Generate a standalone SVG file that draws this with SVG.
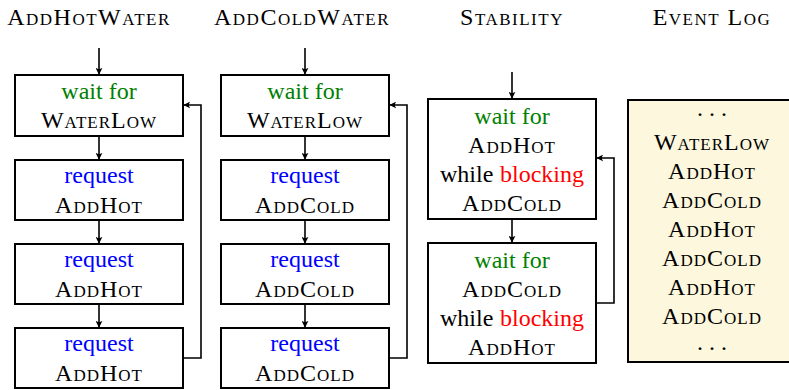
<svg xmlns="http://www.w3.org/2000/svg" width="789" height="390" viewBox="0 0 789 390">
  <style>
    .box { fill: #fff; stroke: #000; stroke-width: 2; }
    .log { fill: #fdf7dd; stroke: #000; stroke-width: 2; }
    .edge { fill: none; stroke: #000; stroke-width: 1.6; marker-end: url(#arr); }
  </style>
  <defs>
    <marker id="arr" viewBox="0 0 10 10" refX="9" refY="5" markerWidth="7" markerHeight="7" orient="auto" markerUnits="userSpaceOnUse">
      <path d="M0,0 Q4,5 0,10 L10,5 Z" fill="#000"/>
    </marker>
  </defs>

  <!-- column headers (small caps) -->
  <g id="headers">
    <text x="89" y="25" font-family="Liberation Serif" font-size="24" font-variant="small-caps" letter-spacing="1.5" text-anchor="middle" fill="#000">AddHotWater</text>
    <text x="302" y="25" font-family="Liberation Serif" font-size="24" font-variant="small-caps" letter-spacing="1.5" text-anchor="middle" fill="#000">AddColdWater</text>
    <text x="512" y="25" font-family="Liberation Serif" font-size="24" font-variant="small-caps" letter-spacing="1.5" text-anchor="middle" fill="#000">Stability</text>
    <text x="712" y="25" font-family="Liberation Serif" font-size="24" font-variant="small-caps" letter-spacing="1.5" text-anchor="middle" fill="#000">Event Log</text>
  </g>

  <!-- AddHotWater process -->
  <g id="hot-wait">
    <rect class="box" x="15" y="75" width="168" height="61"/>
    <text x="99" y="99" font-family="Liberation Serif" font-size="24" text-anchor="middle" fill="#008000">wait for</text>
    <text x="99" y="128" font-family="Liberation Serif" font-size="24" font-variant="small-caps" letter-spacing="1" text-anchor="middle" fill="#000">WaterLow</text>
  </g>
  <g id="hot-req1">
    <rect class="box" x="15" y="160" width="168" height="60"/>
    <text x="99" y="183" font-family="Liberation Serif" font-size="24" text-anchor="middle" fill="#0000ff">request</text>
    <text x="99" y="213" font-family="Liberation Serif" font-size="24" font-variant="small-caps" letter-spacing="1" text-anchor="middle" fill="#000">AddHot</text>
  </g>
  <g id="hot-req2">
    <rect class="box" x="15" y="244" width="168" height="60"/>
    <text x="99" y="267" font-family="Liberation Serif" font-size="24" text-anchor="middle" fill="#0000ff">request</text>
    <text x="99" y="297" font-family="Liberation Serif" font-size="24" font-variant="small-caps" letter-spacing="1" text-anchor="middle" fill="#000">AddHot</text>
  </g>
  <g id="hot-req3">
    <rect class="box" x="15" y="328" width="168" height="60"/>
    <text x="99" y="351" font-family="Liberation Serif" font-size="24" text-anchor="middle" fill="#0000ff">request</text>
    <text x="99" y="381" font-family="Liberation Serif" font-size="24" font-variant="small-caps" letter-spacing="1" text-anchor="middle" fill="#000">AddHot</text>
  </g>

  <!-- AddColdWater process -->
  <g id="cold-wait">
    <rect class="box" x="221" y="75" width="168" height="61"/>
    <text x="305" y="99" font-family="Liberation Serif" font-size="24" text-anchor="middle" fill="#008000">wait for</text>
    <text x="305" y="128" font-family="Liberation Serif" font-size="24" font-variant="small-caps" letter-spacing="1" text-anchor="middle" fill="#000">WaterLow</text>
  </g>
  <g id="cold-req1">
    <rect class="box" x="221" y="160" width="168" height="60"/>
    <text x="305" y="183" font-family="Liberation Serif" font-size="24" text-anchor="middle" fill="#0000ff">request</text>
    <text x="305" y="213" font-family="Liberation Serif" font-size="24" font-variant="small-caps" letter-spacing="1" text-anchor="middle" fill="#000">AddCold</text>
  </g>
  <g id="cold-req2">
    <rect class="box" x="221" y="244" width="168" height="60"/>
    <text x="305" y="267" font-family="Liberation Serif" font-size="24" text-anchor="middle" fill="#0000ff">request</text>
    <text x="305" y="297" font-family="Liberation Serif" font-size="24" font-variant="small-caps" letter-spacing="1" text-anchor="middle" fill="#000">AddCold</text>
  </g>
  <g id="cold-req3">
    <rect class="box" x="221" y="328" width="168" height="60"/>
    <text x="305" y="351" font-family="Liberation Serif" font-size="24" text-anchor="middle" fill="#0000ff">request</text>
    <text x="305" y="381" font-family="Liberation Serif" font-size="24" font-variant="small-caps" letter-spacing="1" text-anchor="middle" fill="#000">AddCold</text>
  </g>

  <!-- Stability process -->
  <g id="stab-hot">
    <rect class="box" x="428" y="99" width="168" height="120"/>
    <text x="512" y="124" font-family="Liberation Serif" font-size="24" text-anchor="middle" fill="#008000">wait for</text>
    <text x="512" y="153" font-family="Liberation Serif" font-size="24" font-variant="small-caps" letter-spacing="1" text-anchor="middle" fill="#000">AddHot</text>
    <text x="440" y="182" font-family="Liberation Serif" font-size="24" fill="#000">while</text>
    <text x="500" y="182" font-family="Liberation Serif" font-size="24" fill="#ff0000">blocking</text>
    <text x="512" y="211" font-family="Liberation Serif" font-size="24" font-variant="small-caps" letter-spacing="1" text-anchor="middle" fill="#000">AddCold</text>
  </g>
  <g id="stab-cold">
    <rect class="box" x="428" y="243" width="168" height="120"/>
    <text x="512" y="268" font-family="Liberation Serif" font-size="24" text-anchor="middle" fill="#008000">wait for</text>
    <text x="512" y="297" font-family="Liberation Serif" font-size="24" font-variant="small-caps" letter-spacing="1" text-anchor="middle" fill="#000">AddCold</text>
    <text x="440" y="326" font-family="Liberation Serif" font-size="24" fill="#000">while</text>
    <text x="500" y="326" font-family="Liberation Serif" font-size="24" fill="#ff0000">blocking</text>
    <text x="512" y="355" font-family="Liberation Serif" font-size="24" font-variant="small-caps" letter-spacing="1" text-anchor="middle" fill="#000">AddHot</text>
  </g>

  <!-- event log -->
  <g id="event-log">
    <rect class="log" x="628" y="100" width="170" height="262"/>
    <text x="712" y="116" font-family="Liberation Serif" font-size="24" text-anchor="middle" fill="#000">. . .</text>
    <text x="712" y="150" font-family="Liberation Serif" font-size="24" font-variant="small-caps" letter-spacing="1" text-anchor="middle" fill="#000">WaterLow</text>
    <text x="712" y="179" font-family="Liberation Serif" font-size="24" font-variant="small-caps" letter-spacing="1" text-anchor="middle" fill="#000">AddHot</text>
    <text x="712" y="208" font-family="Liberation Serif" font-size="24" font-variant="small-caps" letter-spacing="1" text-anchor="middle" fill="#000">AddCold</text>
    <text x="712" y="237" font-family="Liberation Serif" font-size="24" font-variant="small-caps" letter-spacing="1" text-anchor="middle" fill="#000">AddHot</text>
    <text x="712" y="266" font-family="Liberation Serif" font-size="24" font-variant="small-caps" letter-spacing="1" text-anchor="middle" fill="#000">AddCold</text>
    <text x="712" y="295" font-family="Liberation Serif" font-size="24" font-variant="small-caps" letter-spacing="1" text-anchor="middle" fill="#000">AddHot</text>
    <text x="712" y="324" font-family="Liberation Serif" font-size="24" font-variant="small-caps" letter-spacing="1" text-anchor="middle" fill="#000">AddCold</text>
    <text x="712" y="350" font-family="Liberation Serif" font-size="24" text-anchor="middle" fill="#000">. . .</text>
  </g>

  <!-- connectors -->
  <g id="connectors">
    <path class="edge" d="M99,48 V74"/>
    <path class="edge" d="M99,137 V159"/>
    <path class="edge" d="M99,221 V243"/>
    <path class="edge" d="M99,305 V327"/>
    <path class="edge" d="M184,358 H201 V105 H184"/>

    <path class="edge" d="M305,48 V74"/>
    <path class="edge" d="M305,137 V159"/>
    <path class="edge" d="M305,221 V243"/>
    <path class="edge" d="M305,305 V327"/>
    <path class="edge" d="M390,358 H407 V105 H390"/>

    <path class="edge" d="M512,72 V98"/>
    <path class="edge" d="M512,220 V242"/>
    <path class="edge" d="M597,303 H614 V158 H597"/>
  </g>
</svg>
